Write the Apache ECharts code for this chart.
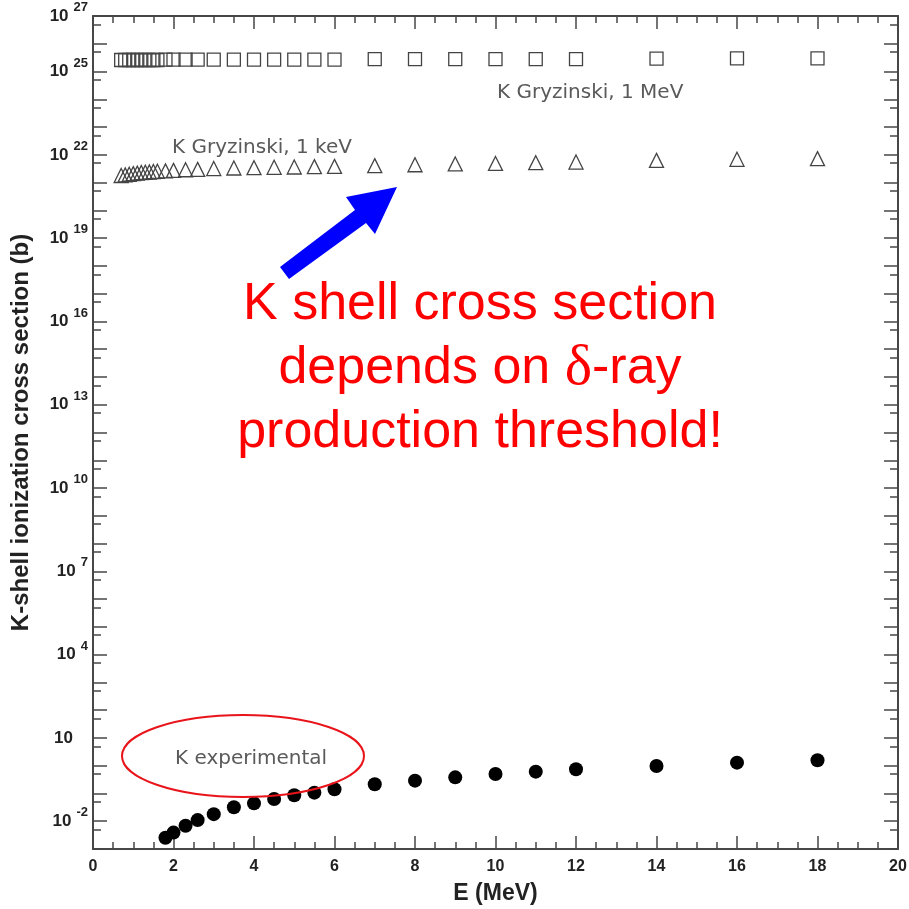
<!DOCTYPE html>
<html>
<head>
<meta charset="utf-8">
<script src="https://cdn.jsdelivr.net/npm/echarts@6/dist/echarts.min.js"></script>
<style>html,body{margin:0;padding:0;background:#fff}#c{width:909px;height:909px}</style>
</head>
<body>
<div id="c"></div>
<script>
// ---- data (cross sections in barn, energies in MeV) ----
const energyGryzinski = [0.7,0.8,0.9,1.0,1.1,1.2,1.3,1.4,1.5,1.6,1.8,2.0,2.3,2.6,3.0,3.5,4.0,4.5,5.0,5.5,6.0,7,8,9,10,11,12,14,16,18];
const gryzinski1MeV = [2.6e25,2.6e25,2.6e25,2.6e25,2.6e25,2.6e25,2.6e25,2.6e25,2.6e25,2.6e25,2.7e25,2.7e25,2.7e25,2.7e25,2.7e25,2.7e25,2.7e25,2.7e25,2.7e25,2.7e25,2.7e25,2.8e25,2.8e25,2.8e25,2.8e25,2.8e25,2.8e25,2.9e25,3.0e25,3.0e25];
const gryzinski1keV = [1.8e21,1.9e21,2.0e21,2.1e21,2.2e21,2.3e21,2.35e21,2.4e21,2.5e21,2.55e21,2.65e21,2.75e21,2.9e21,3.0e21,3.2e21,3.35e21,3.45e21,3.55e21,3.65e21,3.75e21,3.85e21,4.1e21,4.4e21,4.7e21,4.9e21,5.2e21,5.5e21,6.3e21,6.9e21,7.3e21];
const energyExperimental = [1.8,2.0,2.3,2.6,3.0,3.5,4.0,4.5,5.0,5.5,6.0,7,8,9,10,11,12,14,16,18];
const experimental = [2.55e-3,3.9e-3,6.9e-3,1.1e-2,1.8e-2,3.2e-2,4.4e-2,6.3e-2,8.6e-2,0.107,0.142,0.215,0.29,0.38,0.50,0.61,0.745,0.98,1.29,1.57];
const yLabelExponents = [-2,1,4,7,10,13,16,19,22,25,27];
const yMinExp = -3, yMaxExp = 27;
const xMin = 0, xMax = 20, xStep = 2;

// ---- build ----
const toPts = (xs, ys) => xs.map((x, i) => [x, Math.log10(ys[i])]);
const minorTickValues = [];
for (let n = yMinExp; n < yMaxExp; n++) minorTickValues.push(n + Math.log10(5));

const frame = '#474747';
const baseFont = 'Liberation Sans, Arial, sans-serif';

function xAxisCfg(pos, labels) {
  return {
    type: 'value', position: pos, min: xMin, max: xMax, interval: xStep,
    name: labels ? 'E (MeV)' : '', nameLocation: 'middle', nameGap: 33,
    nameTextStyle: {fontFamily: baseFont, fontWeight: 'bold', fontSize: 23, color: '#222'},
    axisLine: {show: true, onZero: false, lineStyle: {color: frame, width: 2}},
    axisTick: {show: true, inside: true, length: 13, lineStyle: {color: frame, width: 1.5}},
    minorTick: {show: true, splitNumber: 4, length: 7, lineStyle: {color: frame, width: 1.5}},
    axisLabel: {show: labels, margin: 10, fontFamily: baseFont, fontWeight: 'bold', fontSize: 16, color: '#222'},
    splitLine: {show: false}, minorSplitLine: {show: false}
  };
}
function yMajor(pos, labels) {
  return {
    type: 'value', position: pos, min: yMinExp, max: yMaxExp, interval: 1,
    name: labels ? 'K-shell ionization cross section (b)' : '', nameLocation: 'middle', nameGap: 60,
    nameTextStyle: {fontFamily: baseFont, fontWeight: 'bold', fontSize: 24, color: '#222'},
    axisLine: {show: true, onZero: false, lineStyle: {color: frame, width: 2}},
    axisTick: {show: true, inside: true, length: 14, lineStyle: {color: frame, width: 1.5}},
    axisLabel: {
      show: labels, margin: 5, customValues: yLabelExponents,
      formatter: v => (Math.round(v) === 1 ? '{b|10}{p|}' : '{b|10}{s|' + Math.round(v) + '}'),
      rich: {
        b: {fontFamily: baseFont, fontWeight: 'bold', fontSize: 17, color: '#222', lineHeight: 30, verticalAlign: 'middle'},
        s: {fontFamily: baseFont, fontWeight: 'bold', fontSize: 13, color: '#222', lineHeight: 13, verticalAlign: 'top', padding: [0, 0, 0, 5]},
        p: {width: 15}
      }
    },
    splitLine: {show: false}
  };
}
function yMinor(pos) {
  return {
    type: 'value', position: pos, min: yMinExp, max: yMaxExp,
    axisLine: {show: false, onZero: false},
    axisTick: {show: true, inside: true, length: 8, customValues: minorTickValues, lineStyle: {color: frame, width: 1.5}},
    axisLabel: {show: false}, splitLine: {show: false}
  };
}

const annFont = 'DejaVu Sans, sans-serif';
const annStyle = {fontFamily: annFont, fontSize: 20, fill: '#5a5a5a', verticalAlign: 'middle'};
const option = {
  animation: false,
  backgroundColor: '#fff',
  grid: {left: 93, right: 11, top: 16, bottom: 60, containLabel: false, outerBoundsMode: 'none'},
  xAxis: [xAxisCfg('bottom', true), xAxisCfg('top', false)],
  yAxis: [yMajor('left', true), yMinor('left'), yMajor('right', false), yMinor('right')],
  series: [
    {
      name: 'K Gryzinski, 1 MeV', type: 'scatter', xAxisIndex: 0, yAxisIndex: 0,
      data: toPts(energyGryzinski, gryzinski1MeV),
      symbol: 'rect', symbolSize: 13, emphasis: {disabled: true},
      itemStyle: {color: 'rgba(0,0,0,0)', borderColor: '#444', borderWidth: 1.3, opacity: 1}
    },
    {
      name: 'K Gryzinski, 1 keV', type: 'scatter', xAxisIndex: 0, yAxisIndex: 0,
      data: toPts(energyGryzinski, gryzinski1keV),
      symbol: 'triangle', symbolSize: 14, emphasis: {disabled: true},
      itemStyle: {color: 'rgba(0,0,0,0)', borderColor: '#444', borderWidth: 1.3, opacity: 1}
    },
    {
      name: 'K experimental', type: 'scatter', xAxisIndex: 0, yAxisIndex: 0,
      data: toPts(energyExperimental, experimental),
      symbol: 'circle', symbolSize: 14, emphasis: {disabled: true},
      itemStyle: {color: '#000', opacity: 1}
    }
  ],
  graphic: [
    {type: 'text', z: 100, style: Object.assign({text: 'K Gryzinski, 1 MeV', x: 497, y: 93}, annStyle)},
    {type: 'text', z: 100, style: Object.assign({text: 'K Gryzinski, 1 keV', x: 172, y: 148}, annStyle)},
    {type: 'text', z: 100, style: Object.assign({text: 'K experimental', x: 175, y: 759}, annStyle)},
    {type: 'ellipse', z: 100, shape: {cx: 243, cy: 756, rx: 121, ry: 41}, style: {fill: 'none', stroke: '#e8141a', lineWidth: 2}},
    {type: 'polygon', z: 100, shape: {points: [[280,267],[355,210],[346,197],[397,187],[375,234],[366,223],[289,279]]}, style: {fill: '#0000ff'}},
    {type: 'text', z: 100, style: {
      text: 'K shell cross section\ndepends on {d|δ}-ray\nproduction threshold!',
      x: 480, y: 369, align: 'center', verticalAlign: 'middle',
      fontFamily: baseFont, fontSize: 52, lineHeight: 64, fill: '#ff0000',
      rich: {d: {fontFamily: 'Liberation Serif, serif', fontSize: 58, lineHeight: 64, fill: '#ff0000'}}
    }}
  ]
};
const chart = echarts.init(document.getElementById('c'), null, {renderer: 'canvas'});
chart.setOption(option);
</script>
</body>
</html>
